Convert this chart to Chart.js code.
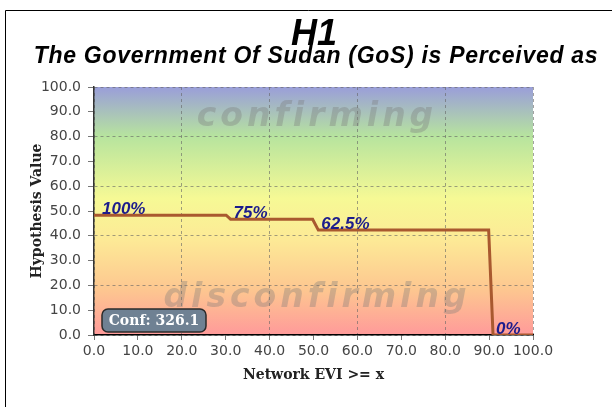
<!DOCTYPE html>
<html>
<head>
<meta charset="utf-8">
<script src="https://cdn.jsdelivr.net/npm/chart.js@4"></script>
<style>
  html, body { margin: 0; padding: 0; background: #fff; }
  #wrap { width: 612px; height: 407px; }
</style>
</head>
<body>
<div id="wrap"><canvas id="chart" width="612" height="407"></canvas></div>
<script>
// values
const networkEvi = [0, 30.1, 31.1, 49.8, 51.1, 89.9, 90.9, 100];
const hypothesisValue = [48.3, 48.3, 46.7, 46.7, 42.3, 42.3, 0, 0];
const stepLabels = ['100%', '75%', '62.5%', '0%'];
const stepLabelAt = [0, 2, 4, 6]; // index of point each label sits on
const axisTicks = [0, 10, 20, 30, 40, 50, 60, 70, 80, 90, 100];
const titleText = 'H1';
const subtitleText = 'The Government Of Sudan (GoS) is Perceived as';
const confText = 'Conf: 326.1';

const points = networkEvi.map((x, i) => ({ x: x, y: hypothesisValue[i] }));

const decorPlugin = {
    id: 'decor',
    beforeDraw(chart) {
        const ctx = chart.ctx;
        const a = chart.chartArea;
        ctx.save();
        const g = ctx.createLinearGradient(0, a.top, 0, a.bottom);
        g.addColorStop(0, '#9a9ed9');
        g.addColorStop(0.2, '#b7e49e');
        g.addColorStop(0.45, '#f6f995');
        g.addColorStop(0.62, '#fde996');
        g.addColorStop(0.82, '#fdc690');
        g.addColorStop(1, '#ff9a9a');
        ctx.fillStyle = g;
        ctx.fillRect(a.left, a.top, a.right - a.left, a.bottom - a.top);

        // titles
        ctx.fillStyle = '#000';
        ctx.textAlign = 'center';
        ctx.textBaseline = 'alphabetic';
        ctx.font = 'italic bold 36px "Liberation Sans"';
        ctx.fillText(titleText, 314, 45);
        ctx.font = 'italic bold 23px "Liberation Sans"';
        ctx.letterSpacing = '0.7px';
        ctx.fillText(subtitleText, 316, 63);
        ctx.restore();
    },
    beforeDatasetsDraw(chart) {
        const ctx = chart.ctx;
        // watermarks over the background, under the line
        ctx.save();
        ctx.fillStyle = 'rgba(120, 120, 120, 0.34)';
        ctx.font = 'italic bold 33px "DejaVu Sans"';
        ctx.textAlign = 'center';
        ctx.textBaseline = 'alphabetic';
        ctx.letterSpacing = '4px';
        ctx.fillText('confirming', 317, 126);
        ctx.fillText('disconfirming', 317, 307);
        ctx.restore();
    },
    afterDraw(chart) {
        const ctx = chart.ctx;
        const xs = chart.scales.x;
        const ys = chart.scales.y;
        ctx.save();
        // step labels
        ctx.font = 'italic bold 17px "Liberation Sans"';
        ctx.fillStyle = '#1c1c8c';
        ctx.textAlign = 'left';
        ctx.textBaseline = 'alphabetic';
        stepLabels.forEach((t, i) => {
            const p = points[stepLabelAt[i]];
            const off = i === 0 ? 8 : 3;
            ctx.fillText(t, xs.getPixelForValue(p.x) + off, ys.getPixelForValue(p.y) - 1);
        });

        // conf box
        const bx = 102, by = 309, bw = 104, bh = 23;
        ctx.beginPath();
        ctx.roundRect(bx, by, bw, bh, 6);
        ctx.fillStyle = '#6f8193';
        ctx.fill();
        ctx.lineWidth = 1.5;
        ctx.strokeStyle = '#2b2b2b';
        ctx.stroke();
        ctx.fillStyle = '#ffffff';
        ctx.font = 'bold 14px "DejaVu Serif"';
        ctx.textAlign = 'center';
        ctx.textBaseline = 'middle';
        ctx.fillText(confText, bx + bw / 2, by + bh / 2 + 1);

        // outer frame
        ctx.beginPath();
        ctx.moveTo(5.5, 407);
        ctx.lineTo(5.5, 10.5);
        ctx.lineTo(612, 10.5);
        ctx.lineWidth = 1;
        ctx.strokeStyle = '#000';
        ctx.stroke();
        ctx.restore();
    }
};

function gridColor(c) {
    return c.tick && c.tick.value % 20 === 0 ? 'rgba(100, 100, 100, 0.6)' : 'rgba(0,0,0,0)';
}

new Chart(document.getElementById('chart'), {
    type: 'line',
    data: {
        datasets: [{
            data: points,
            borderColor: '#a9592f',
            borderWidth: 3,
            pointRadius: 0,
            fill: false,
            tension: 0
        }]
    },
    options: {
        responsive: false,
        animation: false,
        layout: { padding: { left: 0, right: 79, top: 87, bottom: 0 } },
        plugins: {
            legend: { display: false },
            tooltip: { enabled: false }
        },
        scales: {
            x: {
                type: 'linear',
                min: 0,
                max: 100,
                afterBuildTicks(scale) { scale.ticks = axisTicks.map(v => ({ value: v })); },
                afterFit(scale) { scale.height = 72; },
                ticks: {
                    color: '#444',
                    font: { family: '"DejaVu Sans"', size: 14 },
                    padding: 3,
                    maxRotation: 0,
                    autoSkip: false,
                    callback: v => Number(v).toFixed(1)
                },
                grid: {
                    color: gridColor,
                    tickColor: '#777',
                    tickLength: 5,
                    tickBorderDash: []
                },
                border: { color: '#000', width: 1.5, dash: [3, 3] },
                title: {
                    display: true,
                    text: 'Network EVI >= x',
                    color: '#222',
                    font: { family: '"DejaVu Serif"', size: 14, weight: 'bold' },
                    padding: { top: 0, bottom: 23 }
                }
            },
            y: {
                min: 0,
                max: 100,
                afterBuildTicks(scale) { scale.ticks = axisTicks.map(v => ({ value: v })); },
                afterFit(scale) { scale.width = 94; },
                ticks: {
                    color: '#444',
                    font: { family: '"DejaVu Sans"', size: 14 },
                    padding: 7,
                    autoSkip: false,
                    callback: v => Number(v).toFixed(1)
                },
                grid: {
                    color: gridColor,
                    tickColor: '#777',
                    tickLength: 6,
                    tickBorderDash: []
                },
                border: { color: '#333', width: 1.5, dash: [3, 3] },
                title: {
                    display: true,
                    text: 'Hypothesis Value',
                    color: '#222',
                    font: { family: '"DejaVu Serif"', size: 14, weight: 'bold' },
                    padding: { top: 29, bottom: 0 }
                }
            }
        }
    },
    plugins: [decorPlugin]
});
</script>
</body>
</html>
